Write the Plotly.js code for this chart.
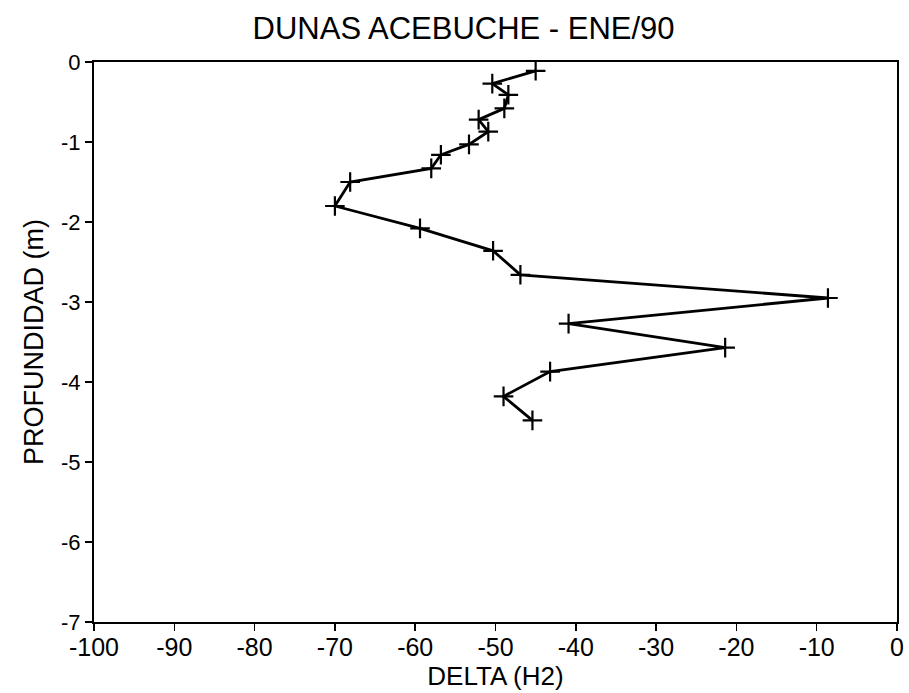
<!DOCTYPE html>
<html>
<head>
<meta charset="utf-8">
<script src="https://cdn.plot.ly/plotly-3.0.1.min.js"></script>
<style>html,body{margin:0;padding:0;background:#fff;}#chart{width:909px;height:693px;}</style>
</head>
<body>
<div id="chart"></div>
<script>
const delta = [-45.0, -50.4, -48.4, -48.9, -52.1, -50.9, -53.3, -56.8, -58.0, -68.1, -70.0, -59.4, -50.3, -46.9, -8.6, -40.9, -21.4, -43.2, -49.0, -45.4];
const depth = [-0.11, -0.27, -0.41, -0.58, -0.72, -0.87, -1.03, -1.16, -1.33, -1.50, -1.80, -2.08, -2.36, -2.66, -2.95, -3.27, -3.57, -3.87, -4.18, -4.48];
const xTicks = [-100, -90, -80, -70, -60, -50, -40, -30, -20, -10, 0];
const yTicks = [0, -1, -2, -3, -4, -5, -6, -7];

const font = 'Liberation Sans, Arial, Helvetica, sans-serif';
Plotly.newPlot('chart', [{
  x: delta, y: depth, type: 'scatter', mode: 'lines+markers',
  line: {color: '#000', width: 2.8},
  marker: {symbol: 'cross-thin', size: 14, color: '#000', line: {color: '#000', width: 2.2}}
}], {
  width: 909, height: 693,
  margin: {l: 94, r: 12, t: 62, b: 71},
  paper_bgcolor: '#fff', plot_bgcolor: '#fff',
  showlegend: false,
  font: {family: font, color: '#000'},
  title: {text: 'DUNAS ACEBUCHE - ENE/90', x: 0.51, xanchor: 'center', y: 0.96, yanchor: 'middle', font: {size: 31, family: font, color: '#000'}},
  xaxis: {
    range: [-100, 0], tickvals: xTicks, ticktext: xTicks.map(String),
    showgrid: false, zeroline: false, showline: true, linecolor: '#000', linewidth: 2, mirror: true,
    ticks: 'outside', ticklen: 7, tickwidth: 1.5, tickcolor: '#000',
    ticklabelstandoff: -5,
    tickfont: {size: 25, family: font, color: '#000'},
    title: {text: 'DELTA (H2)', font: {size: 26, family: font, color: '#000'}, standoff: 5}
  },
  yaxis: {
    range: [-7, 0], tickvals: yTicks, ticktext: yTicks.map(String),
    showgrid: false, zeroline: false, showline: true, linecolor: '#000', linewidth: 2, mirror: true,
    ticks: 'outside', ticklen: 7, tickwidth: 1.5, tickcolor: '#000',
    tickfont: {size: 22, family: font, color: '#000'},
    title: {text: 'PROFUNDIDAD (m)', font: {size: 27, family: font, color: '#000'}, standoff: 10}
  }
}, {staticPlot: true});
</script>
</body>
</html>
